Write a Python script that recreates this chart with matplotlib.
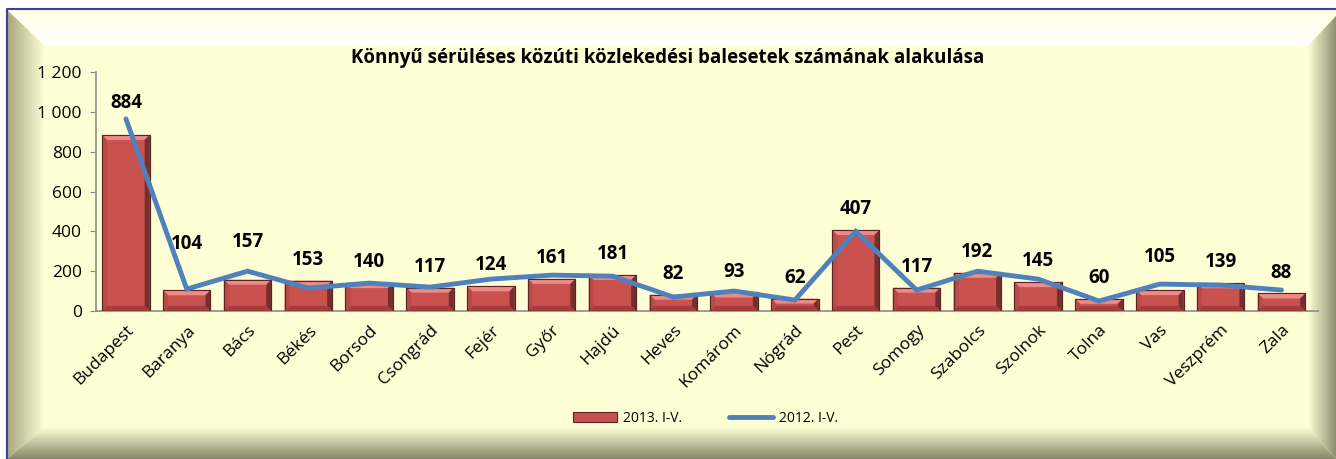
import numpy as np
import matplotlib.pyplot as plt
from matplotlib.patches import Polygon, Rectangle
from matplotlib.colors import to_rgb

# data
megyek = ['Budapest', 'Baranya', 'Bács', 'Békés', 'Borsod', 'Csongrád', 'Fejér',
          'Győr', 'Hajdú', 'Heves', 'Komárom', 'Nógrád', 'Pest', 'Somogy',
          'Szabolcs', 'Szolnok', 'Tolna', 'Vas', 'Veszprém', 'Zala']
ev2013 = [884, 104, 157, 153, 140, 117, 124, 161, 181, 82, 93, 62, 407, 117,
          192, 145, 60, 105, 139, 88]
ev2012 = [965, 110, 200, 115, 140, 120, 160, 180, 175, 70, 100, 55, 400, 105,
          200, 160, 50, 135, 130, 105]
yticks = [0, 200, 400, 600, 800, 1000, 1200]
ytick_labels = ['0', '200', '400', '600', '800', '1 000', '1 200']

# labels that were dragged higher by hand in the original (extra points)
label_lift = {'Budapest': 8, 'Baranya': 18, 'Bács': 12, 'Vas': 9}

plt.rcParams['font.family'] = ['Open Sans', 'DejaVu Sans']

W, H = 1336, 459
fig = plt.figure(figsize=(W / 100, H / 100), dpi=100)
fig.patch.set_facecolor('white')

# background frame with bevel (pixel coords)
bg = fig.add_axes([0, 0, 1, 1], zorder=-10)
bg.axis('off')

yellow = '#FFFFD5'
bg.add_patch(Rectangle((7, 10), W - 7, H - 10, facecolor=yellow, edgecolor='none',
                       zorder=-5))


def grad_poly(verts, c0, c1, horizontal):
    xs = [v[0] for v in verts]
    ys = [v[1] for v in verts]
    t = np.linspace(0, 1, 256)
    a, b = np.array(to_rgb(c0)), np.array(to_rgb(c1))
    cols = a[None, :] * (1 - t[:, None]) + b[None, :] * t[:, None]
    img = cols[None, :, :] if horizontal else cols[:, None, :]
    poly = Polygon(verts, closed=True, facecolor='none', edgecolor='none')
    bg.add_patch(poly)
    im = bg.imshow(img, extent=(min(xs), max(xs), max(ys), min(ys)),
                   aspect='auto', interpolation='bilinear', zorder=1)
    im.set_clip_path(poly)


grad_poly([(7, 10), (W, 10), (W - 28, 46), (45, 46)], '#FFFFE6', '#FFFFFF', False)
grad_poly([(7, 10), (45, 46), (45, 427), (7, 459)], '#A9A67C', '#FFFFD5', True)
grad_poly([(W, 16), (W, H), (W - 28, 427), (W - 28, 46)], '#FFFFD5', '#8E8E73', True)
grad_poly([(7, H), (45, 427), (W - 28, 427), (W, H)], '#FFFFD5', '#86866C', False)
bg.set_xlim(0, W)
bg.set_ylim(H, 0)
bg.plot([7, 7, W], [H, 9, 9], color='#3B3FA0', lw=1.5, solid_capstyle='butt', zorder=3)

# chart
pos = [0.0715, 0.3225, 0.915, 0.5205]
ax = fig.add_axes(pos)
ax.set_facecolor('none')
x = np.arange(len(megyek))
xmax = len(megyek) - 0.5 + 0.1
ax.set_xlim(-0.5, xmax)
ax.set_ylim(0, 1200)

# bevelled bars
bw = 0.78
ux = (xmax + 0.5) / (pos[2] * W)   # data units per pixel
uy = 1200 / (pos[3] * H)
bev = 5
face, top_c, left_c, right_c, bot_c = '#C9524F', '#EC8C89', '#BA4A47', '#74302E', '#A03F3C'
for xi, v in zip(x, ev2013):
    x0, x1 = xi - bw / 2, xi + bw / 2
    dx = bev * ux
    dy = min(bev * uy, v / 2.5)
    ax.add_patch(Rectangle((x0, 0), bw, v, facecolor=face, edgecolor='#5E2220',
                           lw=0.8, zorder=2))
    ax.add_patch(Polygon([(x0, v), (x1, v), (x1 - dx, v - dy), (x0 + dx, v - dy)],
                         facecolor=top_c, edgecolor='none', zorder=3))
    ax.add_patch(Polygon([(x1, v), (x1, 0), (x1 - dx, dy), (x1 - dx, v - dy)],
                         facecolor=right_c, edgecolor='none', zorder=3))
    ax.add_patch(Polygon([(x0, v), (x0, 0), (x0 + dx, dy), (x0 + dx, v - dy)],
                         facecolor=left_c, edgecolor='none', zorder=3))
    ax.add_patch(Polygon([(x0, 0), (x1, 0), (x1 - dx, dy), (x0 + dx, dy)],
                         facecolor=bot_c, edgecolor='none', zorder=3))
    ax.add_patch(Rectangle((x0, 0), bw, v, facecolor='none', edgecolor='#5E2220',
                           lw=0.8, zorder=3))

line, = ax.plot(x, ev2012, color='#4F81BD', lw=3.5, zorder=4,
                solid_capstyle='round', solid_joinstyle='miter')

for name, xi, v in zip(megyek, x, ev2013):
    ax.annotate(str(v), (xi, v), xytext=(0, 15 + label_lift.get(name, 0)),
                textcoords='offset points', ha='center', va='center',
                fontsize=13.5, fontweight='bold', color='black', zorder=5)

ax.set_yticks(yticks)
ax.set_yticklabels(ytick_labels, fontsize=12.5)
ax.set_xticks(x)
ax.set_xticklabels(megyek, rotation=45, ha='right', rotation_mode='anchor',
                   fontsize=12.5)
ax.tick_params(axis='x', length=0, pad=8)
ax.tick_params(axis='y', length=4, color='#8C8C8C', pad=6)
for s in ['top', 'right']:
    ax.spines[s].set_visible(False)
for s in ['left', 'bottom']:
    ax.spines[s].set_color('#8C8C8C')
    ax.spines[s].set_linewidth(1.2)
    ax.spines[s].set_zorder(1)

fig.text(0.5, 0.873, 'Könnyű sérüléses közúti közlekedési balesetek számának alakulása',
         ha='center', va='center', fontsize=13.5, fontweight='bold')

bar_handle = Rectangle((0, 0), 1, 1, facecolor=face, edgecolor='#5E2220', lw=0.8)
fig.legend([bar_handle, line], ['2013. I-V.', '2012. I-V.'], loc='center',
           bbox_to_anchor=(0.528, 0.089), ncol=2, frameon=False, fontsize=10,
           handlelength=3.2, columnspacing=3.4, handletextpad=0.4)

fig.savefig('out.png', dpi=100)
